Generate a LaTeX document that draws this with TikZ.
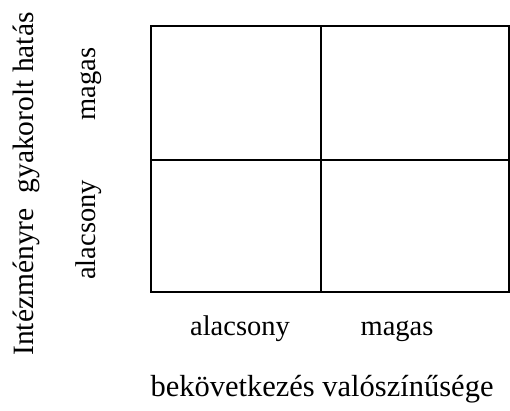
\documentclass[tikz,border=0pt]{standalone}
\usepackage{fontspec}
\setmainfont{Liberation Serif}
\usepackage{tikz}

\begin{document}
\begin{tikzpicture}[x=1pt,y=-1pt,
  felirat/.style={font=\fontsize{28.5}{34}\selectfont,inner sep=0pt,anchor=base},
  tengely/.style={felirat,font=\fontsize{30.5}{36}\selectfont},
  racs/.style={line width=1.6pt}]
  \useasboundingbox (0,0) rectangle (510,410);
  % 2x2 matrix
  \draw[racs] (151,26) rectangle (509,292);
  \draw[racs] (321,26) -- (321,292);
  \draw[racs] (151,160) -- (509,160);
  % horizontal axis
  \node[felirat] (xalacsony) at (240,335) {alacsony};
  \node[felirat] (xmagas) at (397,335) {magas};
  \node[tengely] (xcim) at (322,396) {bekövetkezés valószínűsége};
  % vertical axis
  \node[felirat,rotate=90] (yalacsony) at (95,230) {alacsony};
  \node[felirat,rotate=90] (ymagas) at (95,84) {magas};
  \node[tengely,font=\fontsize{29.5}{35}\selectfont,rotate=90] (ycim) at (33,184)
    {Intézményre\ \ gyakorolt hatás};
\end{tikzpicture}
\end{document}
